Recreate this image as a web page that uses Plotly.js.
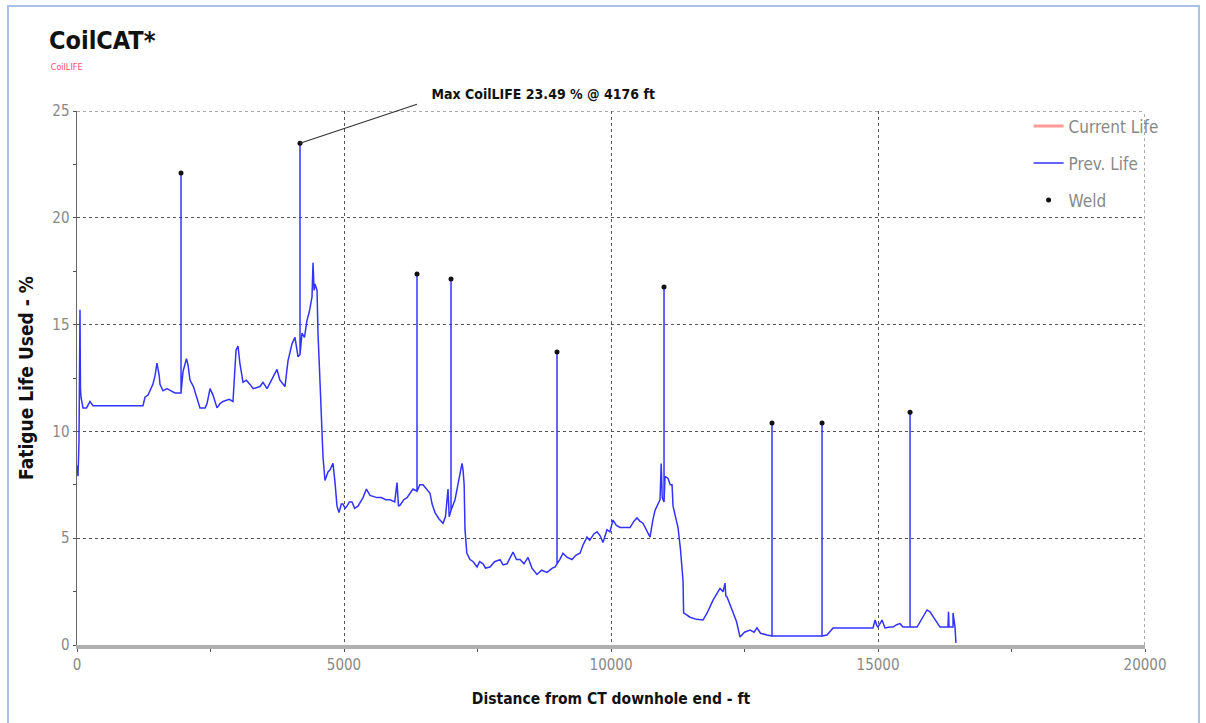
<!DOCTYPE html>
<html>
<head>
<meta charset="utf-8">
<script src="https://cdn.plot.ly/plotly-3.0.1.min.js"></script>
<style>
  html, body { margin: 0; padding: 0; background: #fff; }
  #chart { width: 1206px; height: 723px; }
  #chart text { font-stretch: condensed !important; }
  #frame { position: absolute; left: 7px; top: 5px; width: 1193px; height: 730px;
           border: 2px solid #a9c1e4; pointer-events: none; box-sizing: border-box; }
</style>
</head>
<body>
<div id="chart"></div>
<div id="frame"></div>
<script>
// Distance from CT downhole end (ft) and fatigue life used (%) for the previous life curve
const prevX = [0, 19, 37, 56, 65, 75, 112, 180, 243, 300, 1236, 1273, 1330, 1367, 1420, 1461, 1498, 1540, 1554, 1611, 1685, 1760, 1835, 1929,
  1948, 1948, 1948,
  1985, 2050, 2080, 2116, 2180, 2247, 2303, 2400, 2435, 2491, 2547, 2622, 2680, 2734, 2850, 2921, 2978, 3015, 3050, 3109, 3170, 3240, 3300,
  3427, 3483, 3560, 3670, 3745, 3800, 3895, 3951, 4026, 4082, 4139,
  4176, 4176, 4176,
  4214, 4260, 4307, 4350, 4401, 4420, 4440, 4457, 4495, 4513, 4551, 4580, 4607, 4644, 4700, 4738, 4794, 4832, 4869, 4907, 4950, 4981,
  5020, 5056, 5100, 5150, 5200, 5262, 5356, 5420, 5487, 5618, 5700, 5780, 5862, 5950, 5993, 6020, 6049, 6120, 6180, 6292,
  6367, 6367, 6367,
  6420, 6480, 6611, 6650, 6704, 6780, 6854, 6900, 6948, 6970,
  7004, 7004, 7004,
  7079, 7150, 7210, 7229, 7250, 7266, 7300, 7360, 7420, 7491, 7540, 7603, 7650, 7734, 7820, 7922, 7980, 8053, 8165, 8230, 8296, 8370,
  8446, 8520, 8614, 8700, 8802, 8900, 8952,
  8989, 8989, 8989,
  9040, 9101, 9180, 9270, 9340, 9420, 9480, 9551, 9600, 9680, 9738, 9800, 9850, 9925, 9980, 10038, 10100, 10169, 10356, 10430, 10487,
  10540, 10599, 10680, 10731, 10780, 10824, 10880, 10918, 10940, 10960,
  10993, 10993, 10993,
  11012, 11068, 11110, 11143, 11162, 11255, 11300, 11349, 11360, 11480, 11600, 11723, 11800, 11911, 12041, 12100, 12135, 12150, 12173,
  12285, 12350, 12416, 12500, 12603, 12680, 12734, 12800, 12921,
  13015, 13015, 13015,
  13952, 13952, 13952,
  14045, 14158, 14907, 14945, 14980, 15000, 15075, 15131, 15220, 15281, 15350, 15412, 15468,
  15600, 15600, 15600,
  15731, 15918, 15974, 16161, 16311, 16320, 16330, 16405, 16405, 16442, 16460];
const prevY = [8.4, 7.9, 9.5, 15.7, 12.0, 11.6, 11.1, 11.1, 11.4, 11.2, 11.2, 11.6, 11.7, 11.9, 12.2, 12.6, 13.2, 12.6, 12.2, 11.9, 12.0, 11.9, 11.8, 11.8,
  11.8, 22.1, 11.8,
  12.8, 13.4, 13.1, 12.4, 12.1, 11.5, 11.1, 11.1, 11.3, 12.0, 11.7, 11.1, 11.3, 11.4, 11.5, 11.4, 13.8, 14.0, 13.2, 12.3, 12.4, 12.2, 12.0,
  12.1, 12.3, 12.0, 12.5, 12.9, 12.4, 12.1, 13.3, 14.1, 14.4, 13.5,
  13.6, 23.49, 13.6,
  14.6, 14.4, 15.2, 15.6, 16.3, 17.9, 16.6, 16.9, 16.6, 14.6, 12.3, 10.7, 8.8, 7.7, 8.1, 8.2, 8.5, 7.6, 6.5, 6.2, 6.6, 6.6,
  6.4, 6.5, 6.7, 6.7, 6.4, 6.5, 6.9, 7.3, 7.0, 6.9, 6.9, 6.8, 6.8, 6.7, 7.6, 6.5, 6.55, 6.8, 6.9, 7.3,
  7.2, 17.37, 7.2,
  7.5, 7.5, 7.1, 6.6, 6.2, 5.9, 5.7, 6.0, 7.3, 6.0,
  6.3, 17.13, 6.3,
  6.8, 7.7, 8.5, 8.2, 7.5, 5.4, 4.3, 4.0, 3.9, 3.65, 3.9, 3.8, 3.6, 3.65, 3.9, 4.0, 3.75, 3.8, 4.35, 4.0, 4.0, 3.8,
  4.1, 3.6, 3.3, 3.5, 3.4, 3.6, 3.65,
  3.8, 13.72, 3.8,
  4.0, 4.3, 4.1, 4.0, 4.2, 4.3, 4.7, 5.05, 4.9, 5.2, 5.3, 5.1, 4.8, 5.4, 5.3, 5.85, 5.6, 5.5, 5.5, 5.8, 5.95,
  5.8, 5.7, 5.3, 5.05, 5.8, 6.3, 6.6, 6.8, 8.5, 6.9,
  6.7, 16.76, 6.7,
  7.9, 7.8, 7.5, 7.5, 6.5, 5.5, 4.5, 3.0, 1.5, 1.3, 1.2, 1.17, 1.5, 2.1, 2.65, 2.5, 2.9, 2.3, 2.25,
  1.5, 1.1, 0.37, 0.6, 0.7, 0.6, 0.8, 0.55, 0.47,
  0.42, 10.39, 0.42,
  0.42, 10.39, 0.42,
  0.47, 0.8, 0.8, 1.17, 0.9, 0.84, 1.17, 0.8, 0.84, 0.84, 0.95, 1.0, 0.84,
  0.84, 10.9, 0.84,
  0.84, 1.64, 1.55, 0.84, 0.84, 1.55, 0.84, 0.84, 1.5, 0.84, 0.1];

// Weld locations (ft) and their fatigue life (%)
const weldX = [1948, 4176, 6367, 7004, 8989, 10993, 13015, 13952, 15600];
const weldY = [22.1, 23.49, 17.37, 17.13, 13.72, 16.76, 10.39, 10.39, 10.9];

// Current life has no points plotted
const currX = [null];
const currY = [null];

const xTicks = [0, 5000, 10000, 15000, 20000];
const yTicks = [0, 5, 10, 15, 20, 25];
const xMax = 20000, yMax = 25;

const narrow = '"DejaVu Sans", sans-serif';

const traces = [
  { x: currX, y: currY, type: 'scatter', mode: 'lines', name: 'Current Life',
    line: { color: '#ff9a9a', width: 3 }, legendgroup: 'a' },
  { x: prevX, y: prevY, type: 'scatter', mode: 'lines', name: 'Prev. Life',
    line: { color: '#3333ff', width: 1.5 }, legendgroup: 'b' },
  { x: weldX, y: weldY, type: 'scatter', mode: 'markers', name: 'Weld',
    marker: { color: '#111', size: 5 }, legendgroup: 'c' }
];

const gridDot = { color: '#555', width: 1, dash: 'dot' };

const layout = {
  width: 1206, height: 723,
  paper_bgcolor: '#fff', plot_bgcolor: '#fff',
  margin: { l: 77, r: 61, t: 111, b: 78 },
  font: { family: narrow, color: '#888' },
  title: { text: '<b>CoilCAT*</b>', x: 49/1206, xanchor: 'left', xref: 'container',
           y: 1 - 40/723, yanchor: 'middle', yref: 'container',
           font: { family: narrow, size: 25, color: '#111' } },
  showlegend: true,
  legend: { x: 0.891, xanchor: 'left', y: 1.005, yanchor: 'top', bgcolor: 'rgba(0,0,0,0)',
            font: { family: narrow, size: 17, color: '#888' }, tracegroupgap: 12 },
  xaxis: {
    range: [0, xMax], tickvals: xTicks, ticktext: xTicks.map(String),
    showgrid: true, gridcolor: '#555', griddash: 'dot', gridwidth: 1,
    showline: true, linecolor: '#b0b0b0', linewidth: 4, zeroline: false,
    ticks: 'outside', ticklen: 3, tickcolor: '#555',
    minor: { dtick: 2500, ticks: 'outside', ticklen: 3, tickcolor: '#555', showgrid: false },
    tickfont: { family: narrow, size: 15, color: '#888' },
    title: { text: '<b>Distance from CT downhole end - ft</b>', standoff: 21,
             font: { family: narrow, size: 15.5, color: '#111' } }
  },
  yaxis: {
    range: [0, yMax], tickvals: yTicks, ticktext: yTicks.map(String),
    showgrid: true, gridcolor: '#555', griddash: 'dot', gridwidth: 1,
    showline: true, linecolor: '#666', linewidth: 1.5, zeroline: false,
    ticks: 'outside', ticklen: 3, tickcolor: '#555',
    minor: { dtick: 2.5, ticks: 'outside', ticklen: 3, tickcolor: '#555', showgrid: false },
    tickfont: { family: narrow, size: 15, color: '#888' },
    title: { text: '<b>Fatigue Life Used - %</b>', standoff: 12,
             font: { family: narrow, size: 19, color: '#111' } }
  },
  shapes: [
    { type: 'line', xref: 'paper', yref: 'y', x0: 0, x1: 1, y0: yMax, y1: yMax, line: gridDot, layer: 'below' },
    { type: 'line', xref: 'x', yref: 'paper', x0: xMax, x1: xMax, y0: 0, y1: 1, line: gridDot, layer: 'below' }
  ],
  annotations: [
    { xref: 'paper', yref: 'paper', x: -30/1068, y: 1 + 44/534, xanchor: 'left', yanchor: 'middle',
      text: 'CoilLIFE', showarrow: false, font: { family: narrow, size: 9, color: '#ff4f6a' } },
    { x: weldX[1], y: weldY[1], xref: 'x', yref: 'y',
      text: '<b>Max CoilLIFE ' + weldY[1].toFixed(2) + ' % @ ' + weldX[1] + ' ft</b>',
      showarrow: true, arrowhead: 0, arrowwidth: 1.3, arrowcolor: '#333',
      ax: 117, ay: -39, xanchor: 'left', yanchor: 'bottom',
      font: { family: narrow, size: 14, color: '#111' } }
  ]
};

Plotly.newPlot('chart', traces, layout, { displayModeBar: false, staticPlot: true });
</script>
</body>
</html>
